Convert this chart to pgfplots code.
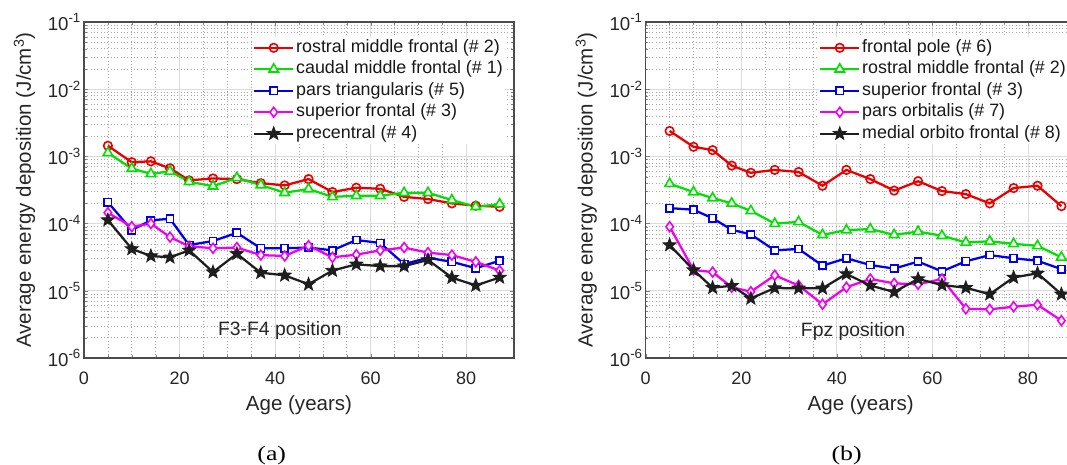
\documentclass[border=0pt]{standalone}
\usepackage{fontspec}
\setmainfont{Liberation Sans}
\newfontfamily\seriffont{Liberation Serif}
\usepackage{pgfplots}
\usepackage{pgfplotstable}
\pgfplotsset{compat=1.18}
\usetikzlibrary{plotmarks}

\definecolor{cRed}{RGB}{235,0,0}
\definecolor{cGreen}{RGB}{0,225,0}
\definecolor{cBlue}{RGB}{0,0,235}
\definecolor{cMag}{RGB}{240,0,240}
\definecolor{cBlk}{RGB}{30,30,30}

\pgfdeclareplotmark{pentastar}{%
  \pgfpathmoveto{\pgfpointpolar{90}{\pgfplotmarksize}}%
  \pgfpathlineto{\pgfpointpolar{126}{0.42\pgfplotmarksize}}%
  \pgfpathlineto{\pgfpointpolar{162}{\pgfplotmarksize}}%
  \pgfpathlineto{\pgfpointpolar{198}{0.42\pgfplotmarksize}}%
  \pgfpathlineto{\pgfpointpolar{234}{\pgfplotmarksize}}%
  \pgfpathlineto{\pgfpointpolar{270}{0.42\pgfplotmarksize}}%
  \pgfpathlineto{\pgfpointpolar{306}{\pgfplotmarksize}}%
  \pgfpathlineto{\pgfpointpolar{342}{0.42\pgfplotmarksize}}%
  \pgfpathlineto{\pgfpointpolar{18}{\pgfplotmarksize}}%
  \pgfpathlineto{\pgfpointpolar{54}{0.42\pgfplotmarksize}}%
  \pgfpathclose
  \pgfusepathqfillstroke
}

\pgfplotstableread{
age r g b m k
5  1.44e-3 1.13e-3 2.08e-4 1.45e-4 1.13e-4
10 8.2e-4  6.6e-4  8.0e-5  9.0e-5  4.2e-5
14 8.45e-4 5.5e-4  1.12e-4 1.0e-4  3.3e-5
18 6.65e-4 6.0e-4  1.18e-4 6.3e-5  3.15e-5
22 4.4e-4  4.2e-4  4.8e-5  4.6e-5  4.0e-5
27 4.7e-4  3.6e-4  5.5e-5  4.3e-5  1.9e-5
32 4.6e-4  4.8e-4  7.3e-5  4.4e-5  3.55e-5
37 4.0e-4  3.75e-4 4.3e-5  3.4e-5  1.86e-5
42 3.7e-4  2.88e-4 4.3e-5  3.3e-5  1.7e-5
47 4.6e-4  3.27e-4 4.4e-5  4.7e-5  1.25e-5
52 2.95e-4 2.5e-4  4.0e-5  3.15e-5 2.0e-5
57 3.42e-4 2.6e-4  5.7e-5  3.45e-5 2.48e-5
62 3.3e-4  2.6e-4  5.15e-5 4.0e-5  2.33e-5
67 2.5e-4  2.88e-4 2.5e-5  4.4e-5  2.33e-5
72 2.32e-4 2.88e-4 3.1e-5  3.7e-5  2.88e-5
77 2.0e-4  2.24e-4 2.7e-5  3.4e-5  1.57e-5
82 1.85e-4 1.78e-4 2.17e-5 2.7e-5  1.2e-5
87 1.78e-4 1.95e-4 2.8e-5  2.0e-5  1.58e-5
}\tableA

\pgfplotstableread{
age r g b m k
5  2.39e-3 3.93e-4 1.7e-4  9.0e-5  4.8e-5
10 1.39e-3 2.95e-4 1.61e-4 2.04e-5 2.04e-5
14 1.24e-3 2.4e-4  1.2e-4  1.9e-5  1.11e-5
18 7.3e-4  2.0e-4  8.1e-5  1.13e-5 1.19e-5
22 5.7e-4  1.55e-4 6.9e-5  9.7e-6  7.7e-6
27 6.3e-4  1.0e-4  4.0e-5  1.7e-5  1.1e-5
32 5.86e-4 1.06e-4 4.2e-5  1.2e-5  1.09e-5
37 3.66e-4 6.8e-5  2.37e-5 6.3e-6  1.09e-5
42 6.3e-4  8.0e-5  3.05e-5 1.13e-5 1.78e-5
47 4.6e-4  8.3e-5  2.42e-5 1.5e-5  1.2e-5
52 3.1e-4  6.8e-5  2.14e-5 1.29e-5 9.6e-6
57 4.27e-4 7.6e-5  2.72e-5 1.25e-5 1.5e-5
62 3.05e-4 6.6e-5  1.95e-5 1.5e-5  1.22e-5
67 2.75e-4 5.25e-5 2.75e-5 5.4e-6  1.11e-5
72 2.0e-4  5.45e-5 3.4e-5  5.3e-6  8.9e-6
77 3.38e-4 5.0e-5  3.05e-5 5.8e-6  1.58e-5
82 3.66e-4 4.67e-5 2.8e-5  6.2e-6  1.82e-5
87 1.82e-4 3.15e-5 2.1e-5  3.6e-6  8.9e-6
}\tableB

\tikzset{
  sR/.style={color=cRed, line width=1.7pt, mark=o, mark size=3.2pt, mark options={line width=1.2pt, fill=white}},
  sG/.style={color=cGreen, line width=1.7pt, mark=triangle*, mark size=4.1pt, mark options={line width=1.2pt, fill=white}},
  sB/.style={color=cBlue, line width=1.7pt, mark=square*, mark size=2.7pt, mark options={line width=1.2pt, fill=white}},
  sM/.style={color=cMag, line width=1.7pt, mark=diamond*, mark size=3.7pt, mark options={line width=1.2pt, fill=white}},
  sK/.style={color=cBlk, line width=1.7pt, mark=pentastar, mark size=5.2pt, mark options={line width=0.6pt, fill=cBlk}},
}

\newcommand{\pw}[1]{10\raisebox{0.75ex}{\fontsize{10}{10}\selectfont #1}}

\pgfplotsset{
  every axis/.append style={
    scale only axis, width=322.5pt, height=252pt,
    xmin=0, xmax=90, ymin=1e-6, ymax=1e-1,
    xtick={0,20,40,60,80}, xticklabels={0,20,40,60,80},
    minor x tick num=3,
    ytick={1e-6,1e-5,1e-4,1e-3,1e-2,1e-1},
    yticklabels={\pw{-6},\pw{-5},\pw{-4},\pw{-3},\pw{-2},\pw{-1}},
    grid=both,
    major grid style={black!14, line width=0.6pt},
    minor grid style={black!35, line width=0.5pt, dotted},
    tick align=inside, xtick pos=both, ytick pos=both,
    major tick length=3.3pt, minor tick length=2pt,
    axis line style={black!70, line width=0.8pt},
    ticklabel style={font=\fontsize{13.5}{15}\selectfont, text=black!85},
    yticklabel style={font=\fontsize{14}{15}\selectfont, inner sep=2.5pt},
    xticklabel style={anchor=base, yshift=-19.9pt},
    label style={font=\fontsize{15.4}{18}\selectfont, text=black!85},
    xlabel style={at={(axis description cs:0.5,0)}, anchor=base, yshift=-39.5pt},
    ylabel style={at={(axis description cs:-0.1384,0.5)}, anchor=center},
    legend cell align=left,
    legend style={draw=none, fill=white, anchor=north west,
      font=\fontsize{13.4}{15}\selectfont, text=black!90,
      row sep=0pt, inner sep=0pt,
      nodes={text height=9.9pt, text depth=3.2pt, inner sep=1.5pt}},
    legend image code/.code={\draw[mark repeat=2,mark phase=2] plot coordinates {(0pt,0pt) (14.5pt,0pt) (29pt,0pt)};},
  },
}

\begin{document}
\begin{tikzpicture}
\useasboundingbox (0pt,0pt) rectangle (800.25pt,-348pt);
\begin{semilogyaxis}[at={(63pt,-16.5pt)}, anchor=north west,
  xlabel={Age (years)},
  ylabel={Average energy deposition (J/cm\textsuperscript{3})},
  legend style={at={(axis description cs:0.393,0.956)}}]
  \addplot[sR] table[x=age,y=r] {\tableA};
  \addlegendentry{rostral middle frontal (\# 2)}
  \addplot[sG] table[x=age,y=g] {\tableA};
  \addlegendentry{caudal middle frontal (\# 1)}
  \addplot[sB] table[x=age,y=b] {\tableA};
  \addlegendentry{pars triangularis (\# 5)}
  \addplot[sM] table[x=age,y=m] {\tableA};
  \addlegendentry{superior frontal (\# 3)}
  \addplot[sK] table[x=age,y=k] {\tableA};
  \addlegendentry{precentral (\# 4)}
  \node[font=\fontsize{14.5}{17}\selectfont, text=black!85] at (axis cs:41,2.6e-6) {F3-F4 position};
\end{semilogyaxis}
\begin{semilogyaxis}[at={(484.3pt,-16.5pt)}, anchor=north west,
  xlabel={Age (years)},
  ylabel={Average energy deposition (J/cm\textsuperscript{3})},
  legend style={at={(axis description cs:0.403,0.956)}}]
  \addplot[sR] table[x=age,y=r] {\tableB};
  \addlegendentry{frontal pole (\# 6)}
  \addplot[sG] table[x=age,y=g] {\tableB};
  \addlegendentry{rostral middle frontal (\# 2)}
  \addplot[sB] table[x=age,y=b] {\tableB};
  \addlegendentry{superior frontal (\# 3)}
  \addplot[sM] table[x=age,y=m] {\tableB};
  \addlegendentry{pars orbitalis (\# 7)}
  \addplot[sK] table[x=age,y=k] {\tableB};
  \addlegendentry{medial orbito frontal (\# 8)}
  \node[font=\fontsize{14.5}{17}\selectfont, text=black!85] at (axis cs:43.4,2.5e-6) {Fpz position};
\end{semilogyaxis}
\node[font=\seriffont\fontsize{15.5}{17}\selectfont, anchor=base, inner sep=0pt] at (203.8pt,-345pt) {\scalebox{1.25}[1]{(a)}};
\node[font=\seriffont\fontsize{15.5}{17}\selectfont, anchor=base, inner sep=0pt] at (635pt,-345pt) {\scalebox{1.25}[1]{(b)}};
\end{tikzpicture}
\end{document}
